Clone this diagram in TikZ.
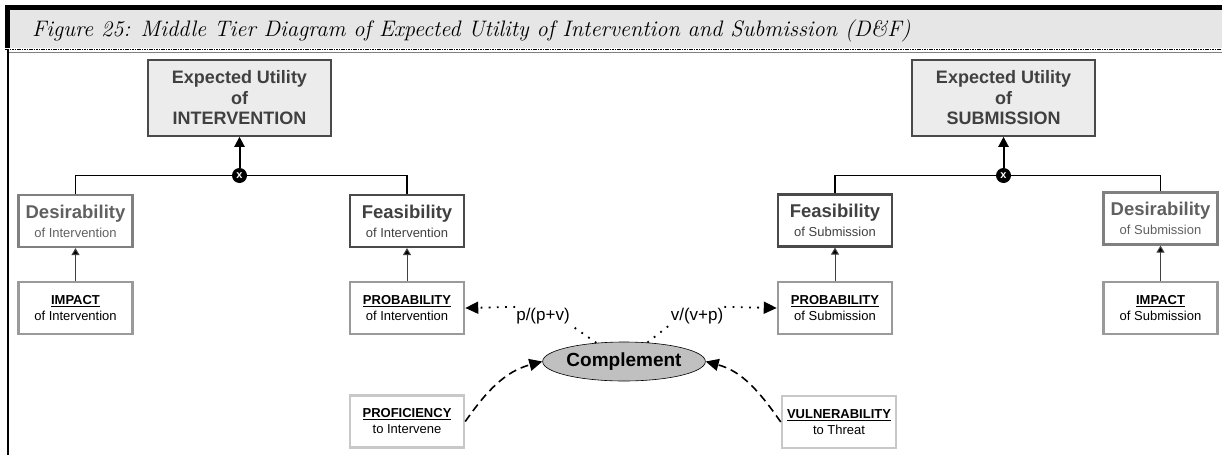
\documentclass[tikz,border=0pt]{standalone}
\usepackage{fontspec}
\newfontfamily\arialf{Liberation Sans}
\usetikzlibrary{arrows.meta,shapes.geometric}

\definecolor{bandgray}{HTML}{E6E6E6}
\definecolor{eufill}{HTML}{ECECEC}
\definecolor{darkline}{HTML}{4A4A4A}
\definecolor{desline}{HTML}{808080}
\definecolor{midline}{HTML}{9A9A9A}
\definecolor{lightline}{HTML}{C8C8C8}
\definecolor{darktext}{HTML}{404040}
\definecolor{destext}{HTML}{606060}
\definecolor{compfill}{HTML}{C0C0C0}

\newcommand\headword[1]{{\fontsize{18.5}{19}\selectfont\bfseries #1}}
\newcommand\capword[1]{\underline{\textbf{#1}}}

\tikzset{
  eubox/.style={draw=darkline, fill=eufill, line width=1.5pt, rectangle,
    minimum width=183pt, minimum height=76pt, inner sep=0pt, align=center,
    text=darktext, font=\arialf\bfseries\fontsize{18}{20.5}\selectfont},
  feabox/.style={draw=darkline, line width=2.2pt, rectangle,
    minimum width=114pt, minimum height=52pt, inner sep=0pt, align=center,
    text=darktext, font=\arialf\fontsize{13}{19}\selectfont},
  desbox/.style={feabox, draw=desline, text=destext},
  probbox/.style={draw=midline, line width=2.5pt, rectangle,
    minimum width=114pt, minimum height=52pt, inner sep=0pt, align=center,
    text=black, font=\arialf\fontsize{13}{16}\selectfont},
  basebox/.style={probbox, draw=lightline},
  mult/.style={circle, fill=black, minimum size=15pt, inner sep=0pt,
    text=white, font=\arialf\bfseries\fontsize{11}{11}\selectfont},
  comp/.style={ellipse, draw=black, line width=0.6pt, fill=compfill,
    minimum width=152pt, minimum height=39pt, inner sep=0pt,
    font=\arialf\bfseries\fontsize{19}{19}\selectfont},
  lbl/.style={inner sep=1pt, font=\arialf\fontsize{17}{17}\selectfont},
  uparrow/.style={line width=2pt, -{Triangle[length=10pt,width=10pt]}},
  joinline/.style={line width=1.6pt},
  feedarrow/.style={line width=1pt, draw=darktext,
    -{Triangle[length=7pt,width=8pt,fill=black]}},
  dotline/.style={line width=1.8pt, dash pattern=on 1.8pt off 6.4pt},
  dashline/.style={line width=1.6pt, dash pattern=on 8pt off 5pt},
  bigtip/.style={-{Triangle[length=13pt,width=12pt]}}
}

\begin{document}
\begin{tikzpicture}[x=1pt,y=-1pt]
\useasboundingbox (0,0) rectangle (1222,455);

% caption band and frame
\fill[bandgray] (10,9) rectangle (1222,48);
\fill[black] (5,5) rectangle (1222,9.5);
\fill[black] (5,5) rectangle (10,48);
\draw[line width=1.6pt, dash pattern=on 1.6pt off 0.8pt] (5,49.3) -- (1222,49.3);
\draw[line width=0.5pt, gray] (7,52.5) -- (1222,52.5);
\fill[black] (7,50) rectangle (9,455);
\node[anchor=base west, inner sep=0pt,
  font=\fontsize{22.4}{26}\selectfont\itshape] (caption) at (32,36)
  {Figure 25: Middle Tier Diagram of Expected Utility of Intervention and Submission (D\&F)};

% top tier
\node[eubox] (euI) at (239.5,98) {Expected Utility\\of\\INTERVENTION};
\node[eubox] (euS) at (1003.5,98) {Expected Utility\\of\\SUBMISSION};
\node[mult] (xI) at (239.5,175.5) {x};
\node[mult] (xS) at (1003.5,175.5) {x};

% middle tier
\node[desbox] (desI) at (75.5,221) {\headword{Desirability}\\of Intervention};
\node[feabox] (feaI) at (407,221) {\headword{Feasibility}\\of Intervention};
\node[feabox] (feaS) at (835,220.5) {\headword{Feasibility}\\of Submission};
\node[desbox] (desS) at (1160.5,218.5) {\headword{Desirability}\\of Submission};

% lower tier
\node[probbox] (impI) at (75.5,308) {\capword{IMPACT}\\of Intervention};
\node[probbox] (probI) at (407,308) {\capword{PROBABILITY}\\of Intervention};
\node[probbox] (probS) at (835,308) {\capword{PROBABILITY}\\of Submission};
\node[probbox] (impS) at (1160.5,308) {\capword{IMPACT}\\of Submission};

% base tier
\node[basebox] (prof) at (407,421.5) {\capword{PROFICIENCY}\\to Intervene};
\node[basebox] (vul) at (839,422) {\capword{VULNERABILITY}\\to Threat};
\node[comp] (cmp) at (624,361.5) {Complement};
\node[lbl] (pv) at (543,316) {p/(p+v)};
\node[lbl] (vp) at (697,316) {v/(v+p)};

% product joins
\draw[joinline] (desI.north) |- (xI.west);
\draw[joinline] (xI.east) -| (feaI.north);
\draw[joinline] (feaS.north) |- (xS.west);
\draw[joinline] (xS.east) -| (desS.north);
\draw[uparrow] (xI) -- (euI);
\draw[uparrow] (xS) -- (euS);

% feeds from the lower tier
\draw[feedarrow] (impI) -- (desI);
\draw[feedarrow] (probI) -- (feaI);
\draw[feedarrow] (probS) -- (feaS);
\draw[feedarrow] (impS) -- (desS);

% complement split
\draw[dotline] (cmp.146) -- (pv.south east);
\draw[dotline, bigtip] (pv.north west) -- (probI.east);
\draw[dotline] (cmp.39) -- (vp.south west);
\draw[dotline, bigtip] (vp.north east) -- (probS.west);
\draw[dashline, bigtip] (prof.east) to[out=55, in=195] (cmp.west);
\draw[dashline, bigtip] (vul.west) to[out=125, in=-15] (cmp.east);
\end{tikzpicture}
\end{document}
